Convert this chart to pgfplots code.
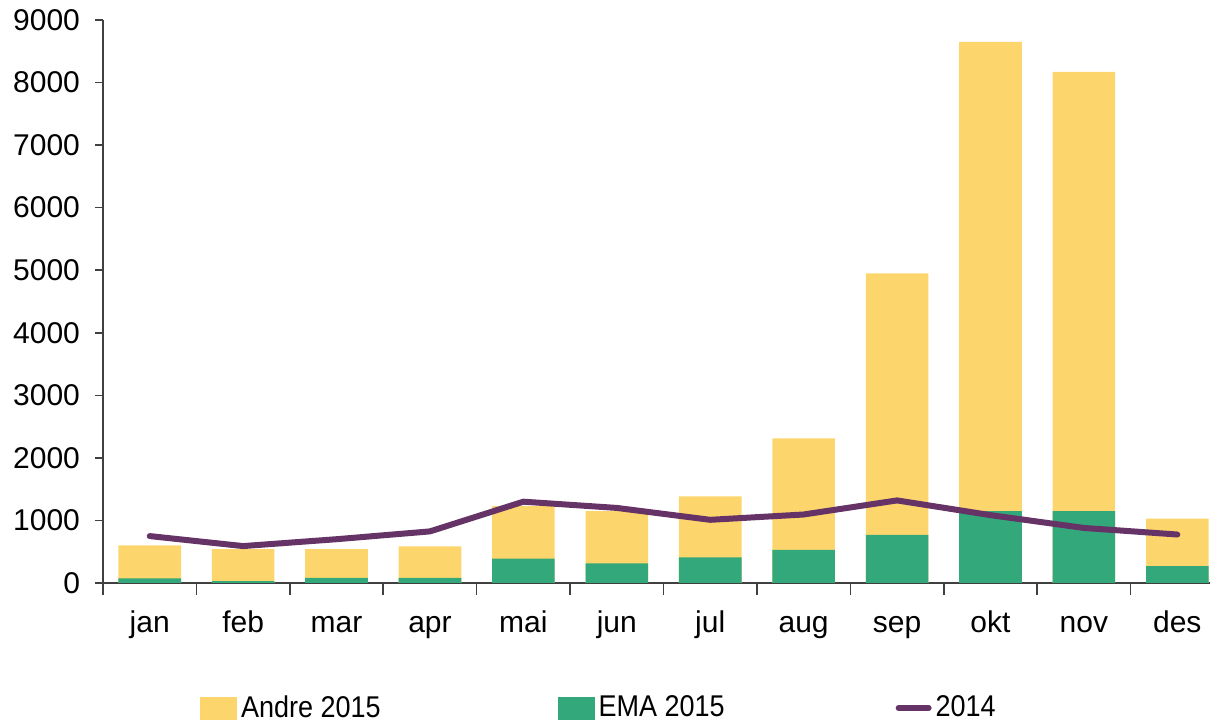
\documentclass[border=0pt]{standalone}
\usepackage{pgfplots}
\pgfplotsset{compat=1.18}
\usepackage{fontspec}
\setmainfont{Liberation Sans}
\newfontfamily\condfont[FakeStretch=0.9]{Liberation Sans}
\definecolor{cyellow}{HTML}{FCD56C}
\definecolor{cgreen}{HTML}{33A87B}
\definecolor{cpurple}{HTML}{663366}
\begin{document}
\begin{tikzpicture}
\begin{axis}[
  scale only axis,
  width=560.5pt, height=281.5pt,
  xmin=-0.5, xmax=11.5,
  ymin=0, ymax=9000,
  axis x line=bottom, axis y line=left,
  axis line style={-, black!75, line width=0.8pt},
  xtick={0,...,11},
  xticklabels={jan,feb,mar,apr,mai,jun,jul,aug,sep,okt,nov,des},
  major x tick style={draw=none},
  minor xtick={-0.5,0.5,...,11.5},
  minor x tick style={black!75, line width=0.8pt},
  minor tick length=6pt,
  ytick={0,1000,...,9000},
  major tick length=4pt,
  y tick style={black!75, line width=0.8pt},
  tick align=outside,
  tick label style={font=\fontsize{15}{18}\selectfont},
  xticklabel style={yshift=-6pt, text height=11pt, text depth=3.5pt},
  yticklabel style={xshift=-4pt},
  /pgf/number format/assume math mode=true,
  /pgf/number format/set thousands separator={},
  scaled y ticks=false,
  legend columns=3,
  legend style={draw=none, fill=none, inner sep=0pt,
    at={(0.0876*553.5/560.5,-0.222)}, anchor=west,
    font=\condfont\fontsize{15}{18}\selectfont,
    /tikz/column 2/.style={column sep=86.5pt},
    /tikz/column 4/.style={column sep=83.5pt}},
  legend cell align=left,
]
\coordinate (bl) at (rel axis cs:0,0);
% Total 2015 (Andre + EMA)
\addplot[ybar, bar width=0.67, bar shift=0pt, fill=cyellow, draw=none, forget plot]
  coordinates {(0,600) (1,540) (2,540) (3,585) (4,1230) (5,1150) (6,1385) (7,2310) (8,4950) (9,8650) (10,8170) (11,1030)};
% EMA 2015
\addplot[ybar, bar width=0.67, bar shift=0pt, fill=cgreen, draw=none, forget plot]
  coordinates {(0,75) (1,30) (2,80) (3,80) (4,390) (5,315) (6,410) (7,530) (8,770) (9,1150) (10,1150) (11,268)};
% 2014
\addplot[sharp plot, no marks, color=cpurple, line width=3pt, line cap=round, line join=round, forget plot]
  coordinates {(0,750) (1,590) (2,700) (3,825) (4,1300) (5,1200) (6,1010) (7,1095) (8,1320) (9,1085) (10,880) (11,775)};
\addlegendimage{legend image code/.code={\fill[cyellow] (0pt,-5.5pt) rectangle (18pt,5.5pt);}}
\addlegendentry{Andre 2015}
\addlegendimage{legend image code/.code={\fill[cgreen] (0pt,-5.5pt) rectangle (18pt,5.5pt);}}
\addlegendentry{EMA 2015}
\addlegendimage{legend image code/.code={\draw[cpurple, line width=3pt, line cap=round] (1.5pt,0pt) -- (16.5pt,0pt);}}
\addlegendentry{2014}
\end{axis}
\pgfresetboundingbox
\path[use as bounding box] ([shift={(-51.5pt,-69pt)}]bl) rectangle ([shift={(553.5pt,291.5pt)}]bl);
\end{tikzpicture}
\end{document}
